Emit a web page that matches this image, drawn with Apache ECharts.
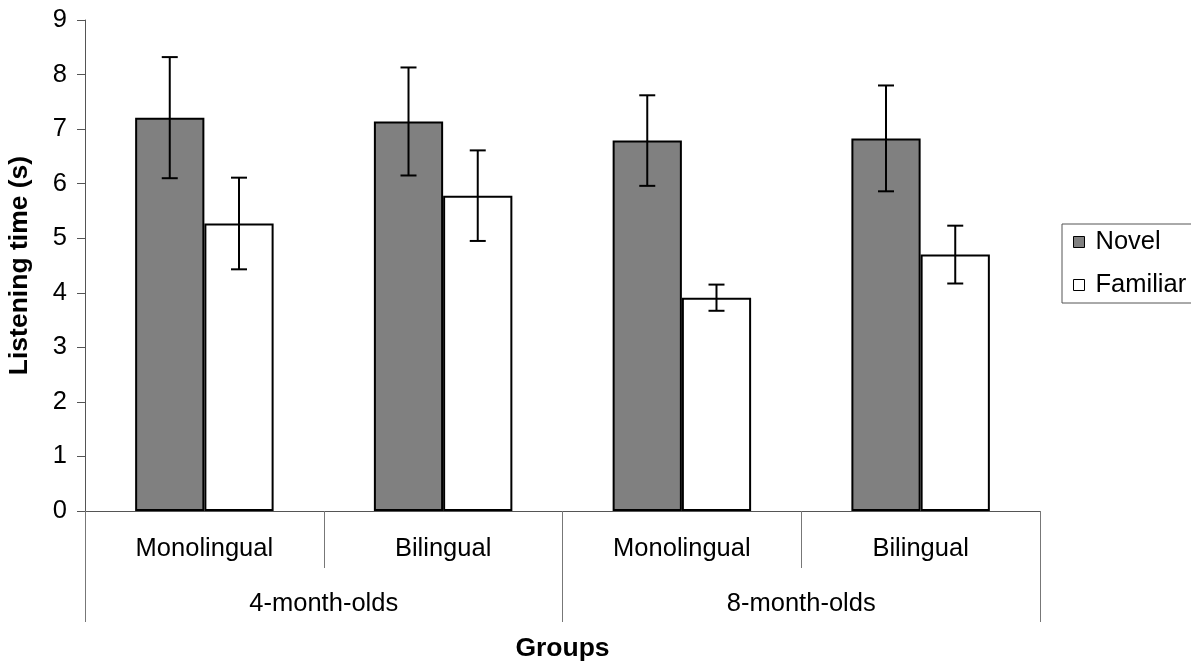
<!DOCTYPE html>
<html>
<head>
<meta charset="utf-8">
<script src="https://cdn.jsdelivr.net/npm/echarts@6/dist/echarts.min.js"></script>
<style>
html,body{margin:0;padding:0;background:#fff;}
#chart{width:1191px;height:661px;}
</style>
</head>
<body>
<div id="chart"></div>
<script>
// ---- data ----
var innerCategories = ['Monolingual', 'Bilingual', 'Monolingual', 'Bilingual'];
var outerCategories = ['4-month-olds', '8-month-olds'];
var seriesNames = ['Novel', 'Familiar'];
var novelValues = [7.21, 7.14, 6.79, 6.83];
var novelErrors = [1.11, 0.99, 0.83, 0.97];
var familiarValues = [5.27, 5.78, 3.91, 4.70];
var familiarErrors = [0.84, 0.83, 0.24, 0.53];
var yTicks = [0, 1, 2, 3, 4, 5, 6, 7, 8, 9];

var FONT = '"Liberation Sans", Arial, sans-serif';
var BAR_FRAC = 0.29;
var LABEL_SIZE = 25.5;
var TITLE_SIZE = 26.5;

function errData(vals, errs) {
  return vals.map(function (v, i) { return [i, v, errs[i]]; });
}
function makeErrRender(sign) {
  return function (params, api) {
    var idx = api.value(0), v = api.value(1), e = api.value(2);
    var band = api.size([1, 0])[0];
    var off = sign * band * BAR_FRAC / 2;
    var top = api.coord([idx, v + e]);
    var bot = api.coord([idx, v - e]);
    var x = top[0] + off;
    var cap = 8;
    var st = { stroke: '#000', lineWidth: 2 };
    return {
      type: 'group',
      children: [
        { type: 'line', shape: { x1: x, y1: top[1], x2: x, y2: bot[1] }, style: st },
        { type: 'line', shape: { x1: x - cap, y1: top[1], x2: x + cap, y2: top[1] }, style: st },
        { type: 'line', shape: { x1: x - cap, y1: bot[1], x2: x + cap, y2: bot[1] }, style: st }
      ]
    };
  };
}

var chart = echarts.init(document.getElementById('chart'), null, { renderer: 'canvas' });
chart.setOption({
  backgroundColor: '#fff',
  animation: false,
  textStyle: { fontFamily: FONT, color: '#000' },
  grid: { left: 85, right: 151, top: 20, bottom: 150, containLabel: false, outerBoundsMode: 'none' },
  legend: {
    orient: 'vertical',
    left: 1062, top: 224,
    padding: [5, 14, 5, 11],
    itemGap: 17,
    itemWidth: 11, itemHeight: 11,
    borderColor: '#555', borderWidth: 1,
    data: [
      { name: seriesNames[0], icon: 'rect', itemStyle: { color: '#808080', borderColor: '#000', borderWidth: 1 } },
      { name: seriesNames[1], icon: 'rect', itemStyle: { color: '#fff', borderColor: '#000', borderWidth: 1 } }
    ],
    textStyle: { fontFamily: FONT, fontSize: LABEL_SIZE, color: '#000', padding: [0, 0, 0, 6] }
  },
  xAxis: [
    {
      type: 'category',
      data: innerCategories,
      position: 'bottom',
      axisLine: { show: true, lineStyle: { color: '#555', width: 1 } },
      axisTick: { show: true, length: 57, alignWithLabel: false, lineStyle: { color: '#777', width: 1 } },
      axisLabel: { fontFamily: FONT, fontSize: LABEL_SIZE, color: '#000', margin: 25, interval: 0 },
      splitLine: { show: false }
    },
    {
      type: 'category',
      data: outerCategories,
      position: 'bottom',
      axisLine: { show: false },
      axisTick: { show: true, length: 111, lineStyle: { color: '#777', width: 1 } },
      axisLabel: { fontFamily: FONT, fontSize: LABEL_SIZE, color: '#000', margin: 80, interval: 0 },
      name: 'Groups',
      nameLocation: 'middle',
      nameGap: 124,
      nameTextStyle: { fontFamily: FONT, fontSize: TITLE_SIZE, fontWeight: 'bold', color: '#000' }
    }
  ],
  yAxis: {
    type: 'value',
    min: yTicks[0], max: yTicks[yTicks.length - 1], interval: 1,
    axisLine: { show: true, lineStyle: { color: '#555', width: 1 } },
    axisTick: { show: true, length: 8, inside: false, lineStyle: { color: '#555' } },
    axisLabel: { fontFamily: FONT, fontSize: LABEL_SIZE, color: '#000', margin: 18 },
    splitLine: { show: false },
    name: 'Listening time (s)',
    nameLocation: 'middle',
    nameGap: 52,
    nameTextStyle: { fontFamily: FONT, fontSize: TITLE_SIZE, fontWeight: 'bold', color: '#000' }
  },
  series: [
    {
      name: seriesNames[0], type: 'bar', xAxisIndex: 0, data: novelValues,
      barWidth: (BAR_FRAC * 100) + '%', barGap: '0%',
      itemStyle: { color: '#808080', borderColor: '#000', borderWidth: 2 }
    },
    {
      name: seriesNames[1], type: 'bar', xAxisIndex: 0, data: familiarValues,
      barWidth: (BAR_FRAC * 100) + '%', barGap: '0%',
      itemStyle: { color: '#fff', borderColor: '#000', borderWidth: 2 }
    },
    {
      name: seriesNames[0], type: 'custom', xAxisIndex: 0, z: 10,
      renderItem: makeErrRender(-1), data: errData(novelValues, novelErrors)
    },
    {
      name: seriesNames[1], type: 'custom', xAxisIndex: 0, z: 10,
      renderItem: makeErrRender(1), data: errData(familiarValues, familiarErrors)
    }
  ]
});
</script>
</body>
</html>
